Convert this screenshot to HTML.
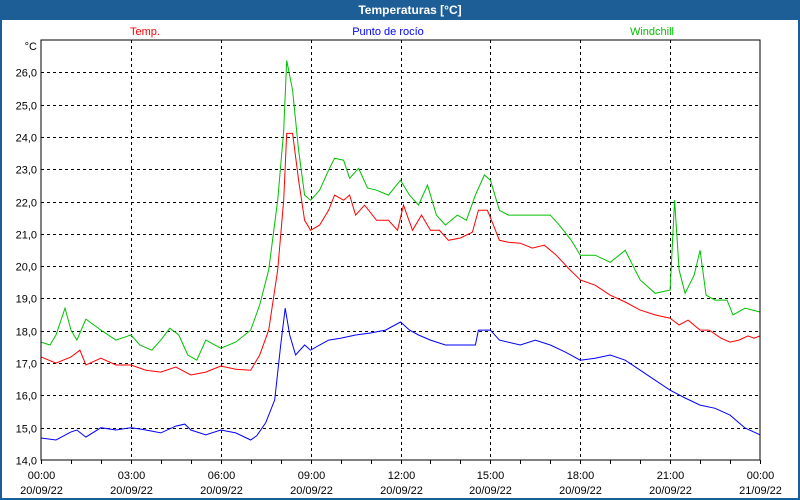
<!DOCTYPE html>
<html><head><meta charset="utf-8"><style>
body{margin:0;background:#fff;}
svg{display:block;font-family:"Liberation Sans",Tahoma,sans-serif;}
</style></head><body>
<svg id="chart" width="800" height="500" xmlns="http://www.w3.org/2000/svg">
<rect x="0" y="0" width="800" height="500" fill="#1e5e96"/>
<rect x="2" y="20" width="796" height="478" fill="#fff"/>
<text x="410" y="14" fill="#fff" font-size="12" font-weight="bold" text-anchor="middle">Temperaturas [°C]</text>
<text x="145" y="35" fill="#ff0000" font-size="11" text-anchor="middle">Temp.</text>
<text x="388" y="35" fill="#0000ff" font-size="11" text-anchor="middle">Punto de rocío</text>
<text x="652" y="35" fill="#00c000" font-size="11" text-anchor="middle">Windchill</text>
<text x="37" y="50" font-size="11" text-anchor="end">°C</text>
<g id="grid"></g>
<g id="series"></g>
<rect x="41" y="40" width="719" height="420" fill="none" stroke="#000" stroke-width="1"/>
</svg>
<script>
const yTicks=[14,15,16,17,18,19,20,21,22,23,24,25,26];
const xTickHours=[0,3,6,9,12,15,18,21,24];
const xTickLabels=["00:00","03:00","06:00","09:00","12:00","15:00","18:00","21:00","00:00"];
const xTickDates=["20/09/22","20/09/22","20/09/22","20/09/22","20/09/22","20/09/22","20/09/22","20/09/22","21/09/22"];

const tempHours=[0,0.5,1,1.3,1.5,2,2.5,3,3.5,4,4.5,5,5.5,6,6.5,7,7.3,7.6,7.9,8.1,8.2,8.4,8.6,8.8,9,9.3,9.6,9.8,10.1,10.3,10.5,10.8,11.2,11.6,11.9,12.1,12.4,12.7,13,13.3,13.6,14,14.4,14.6,14.9,15.1,15.3,15.6,16,16.4,16.8,17.2,17.6,18,18.5,19,19.5,20,20.5,21,21.3,21.6,22,22.3,22.7,23,23.3,23.6,23.8,24];
const tempValues=[17.19,17.0,17.19,17.4,16.94,17.15,16.94,16.94,16.78,16.72,16.88,16.63,16.72,16.91,16.81,16.78,17.25,18.02,19.88,22.04,24.11,24.11,22.66,21.42,21.11,21.27,21.73,22.2,22.04,22.2,21.58,21.89,21.42,21.42,21.11,21.89,21.11,21.58,21.11,21.11,20.8,20.87,21.05,21.73,21.73,21.27,20.8,20.74,20.71,20.56,20.65,20.34,19.94,19.57,19.41,19.1,18.89,18.64,18.49,18.39,18.18,18.33,18.02,18.02,17.77,17.65,17.71,17.84,17.77,17.84];

const dewHours=[0,0.5,1,1.2,1.5,2,2.5,3,3.3,3.5,4,4.5,4.8,5,5.5,6,6.5,7,7.2,7.5,7.8,8,8.15,8.3,8.5,8.8,9,9.3,9.6,10,10.5,11,11.5,12,12.3,12.6,13,13.5,14,14.5,14.6,15,15.3,16,16.5,17,17.5,18,18.5,19,19.5,20,20.5,21,21.5,22,22.5,23,23.5,24];
const dewValues=[14.68,14.62,14.87,14.93,14.71,15.0,14.93,15.0,14.96,14.93,14.84,15.05,15.11,14.93,14.78,14.93,14.84,14.62,14.75,15.15,15.86,17.56,18.7,17.87,17.25,17.56,17.4,17.56,17.71,17.77,17.87,17.93,18.02,18.27,18.02,17.87,17.71,17.56,17.56,17.56,18.02,18.02,17.71,17.56,17.71,17.56,17.34,17.09,17.15,17.25,17.09,16.78,16.47,16.16,15.92,15.7,15.6,15.39,14.99,14.78];

const windHours=[0,0.3,0.5,0.8,1,1.2,1.5,2,2.5,3,3.3,3.7,4,4.3,4.6,4.9,5.2,5.5,6,6.5,7,7.3,7.6,7.9,8.1,8.2,8.4,8.6,8.8,9,9.3,9.6,9.8,10.1,10.3,10.6,10.9,11.2,11.6,12,12.3,12.6,12.9,13.2,13.5,13.9,14.2,14.5,14.8,15,15.3,15.6,16,16.5,17,17.3,17.7,18,18.5,19,19.5,20,20.5,21,21.15,21.3,21.5,21.8,22,22.2,22.5,22.9,23.1,23.5,24];
const windValues=[17.65,17.56,17.87,18.7,18.02,17.71,18.36,18.02,17.71,17.87,17.56,17.4,17.71,18.08,17.87,17.25,17.09,17.71,17.46,17.65,18.02,18.8,19.88,22.04,24.2,26.37,25.44,23.59,22.2,22.04,22.35,22.97,23.34,23.28,22.72,23.03,22.42,22.35,22.2,22.66,22.2,21.89,22.51,21.58,21.27,21.58,21.42,22.2,22.82,22.66,21.73,21.58,21.58,21.58,21.58,21.27,20.8,20.34,20.34,20.12,20.49,19.57,19.16,19.26,22.04,19.88,19.16,19.72,20.49,19.1,18.95,18.95,18.49,18.7,18.58];

const X0=41,X1=760,Y0=460,Y1=40,VMIN=14,VMAX=27;
const xs=h=>X0+(X1-X0)*h/24;
const ys=v=>Y0-(Y0-Y1)*(v-VMIN)/(VMAX-VMIN);
const NS="http://www.w3.org/2000/svg";
const grid=document.getElementById('grid'),ser=document.getElementById('series');
function mk(tag,attrs,parent){const e=document.createElementNS(NS,tag);for(const k in attrs)e.setAttribute(k,attrs[k]);parent.appendChild(e);return e;}

yTicks.forEach(v=>{
  const y=Math.round(ys(v))+0.5;
  if(v>VMIN){const l=mk('line',{x1:X0,x2:X1,y1:y,y2:y,stroke:'#000','stroke-dasharray':'3,3'},grid);
  
  }
  const t=mk('text',{x:37,y:y+4,'font-size':11,'text-anchor':'end'},grid);
  
  
  t.textContent=v.toFixed(1).replace('.',',');
});
for(let h=0;h<=24;h++){
  const x=Math.round(xs(h))+0.5;
  const tk=mk('line',{x1:x,x2:x,y1:Y0,y2:Y0+4,stroke:'#000'},grid);
  
  
}
xTickHours.forEach((h,i)=>{
  const x=Math.round(xs(h))+0.5;
  if(h>0&&h<24){const l=mk('line',{x1:x,x2:x,y1:Y1,y2:Y0,stroke:'#000','stroke-dasharray':'3,3'},grid);
  
  }
  const t=mk('text',{x:x,y:479,'font-size':11,'text-anchor':'middle'},grid);
  
  
  t.textContent=xTickLabels[i];
  const d=mk('text',{x:x,y:494,'font-size':11,'text-anchor':'middle'},grid);
  
  
  d.textContent=xTickDates[i];
});
function line(hs,vs,color,name){
  const p=mk('polyline',{points:hs.map((h,i)=>xs(h).toFixed(1)+','+ys(vs[i]).toFixed(1)).join(' '),fill:'none',stroke:color,'stroke-width':1},ser);
  
  
}
line(dewHours,dewValues,'#0000ff','dewpoint-line');
line(tempHours,tempValues,'#ff0000','temp-line');
line(windHours,windValues,'#00c000','windchill-line');
</script>
</body></html>
